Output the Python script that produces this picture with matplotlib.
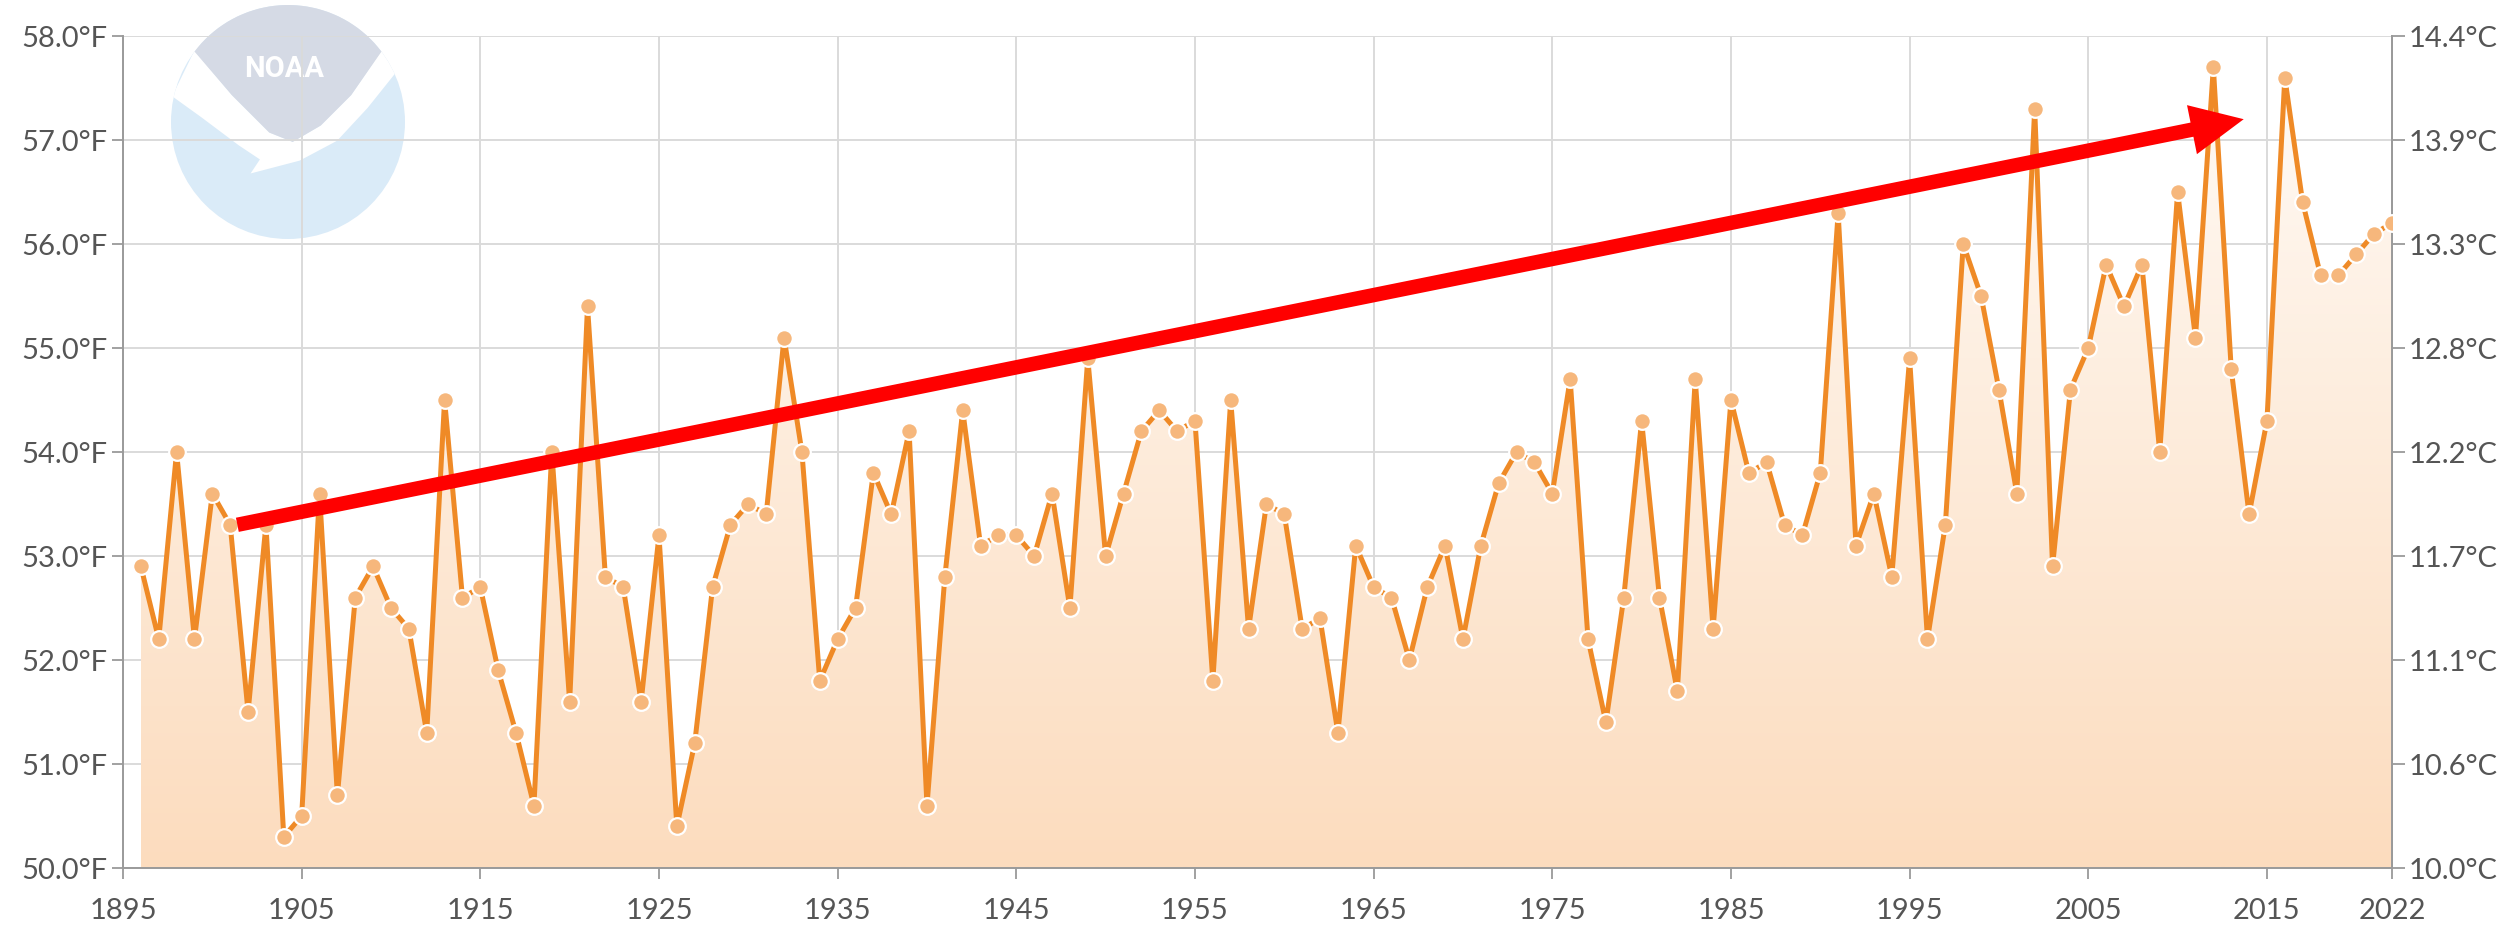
"""Contiguous U.S. annual average temperature, 1896-2022, with trend arrow."""

import numpy as np
import matplotlib
matplotlib.use("Agg")
import matplotlib.pyplot as plt
from matplotlib.patches import Circle, Polygon
from matplotlib.ticker import FixedLocator, FuncFormatter

YEARS = list(range(1896, 2023))
TEMPS_F = [
    52.9, 52.2, 54.0, 52.2, 53.6, 53.3, 51.5, 53.3, 50.3, 50.5,  # 1896-1905
    53.6, 50.7, 52.6, 52.9, 52.5, 52.3, 51.3, 54.5, 52.6, 52.7,  # 1906-1915
    51.9, 51.3, 50.6, 54.0, 51.6, 55.4, 52.8, 52.7, 51.6, 53.2,  # 1916-1925
    50.4, 51.2, 52.7, 53.3, 53.5, 53.4, 55.1, 54.0, 51.8, 52.2,  # 1926-1935
    52.5, 53.8, 53.4, 54.2, 50.6, 52.8, 54.4, 53.1, 53.2, 53.2,  # 1936-1945
    53.0, 53.6, 52.5, 54.9, 53.0, 53.6, 54.2, 54.4, 54.2, 54.3,  # 1946-1955
    51.8, 54.5, 52.3, 53.5, 53.4, 52.3, 52.4, 51.3, 53.1, 52.7,  # 1956-1965
    52.6, 52.0, 52.7, 53.1, 52.2, 53.1, 53.7, 54.0, 53.9, 53.6,  # 1966-1975
    54.7, 52.2, 51.4, 52.6, 54.3, 52.6, 51.7, 54.7, 52.3, 54.5,  # 1976-1985
    53.8, 53.9, 53.3, 53.2, 53.8, 56.3, 53.1, 53.6, 52.8, 54.9,  # 1986-1995
    52.2, 53.3, 56.0, 55.5, 54.6, 53.6, 57.3, 52.9, 54.6, 55.0,  # 1996-2005
    55.8, 55.4, 55.8, 54.0, 56.5, 55.1, 57.7, 54.8, 53.4, 54.3,  # 2006-2015
    57.6, 56.4, 55.7, 55.7, 55.9, 56.1, 56.2,                    # 2016-2022
]

X_TICKS = [1895, 1905, 1915, 1925, 1935, 1945, 1955, 1965, 1975, 1985,
           1995, 2005, 2015, 2022]
Y_TICKS_F = [50, 51, 52, 53, 54, 55, 56, 57, 58]

# hand-drawn trend arrow (data coords)
ARROW_START = (1901.4, 53.3)
ARROW_END = (2013.7, 57.2)

LINE_COLOR = "#EF8A26"
MARKER_COLOR = "#F6B77C"
GRID_COLOR = "#DADADA"
SPINE_COLOR = "#9A9A9A"
TEXT_COLOR = "#555555"

W, H, DPI = 2509, 937, 100


def f_to_c(f):
    return (np.asarray(f) - 32.0) * 5.0 / 9.0


def c_to_f(c):
    return np.asarray(c) * 9.0 / 5.0 + 32.0


def draw_logo(fig):
    cx, cy, r = 288, 123, 117
    lax = fig.add_axes([(cx - r) / W, 1 - (cy + r) / H, 2 * r / W, 2 * r / H])
    lax.set_zorder(0)
    lax.set_xlim(-1, 1)
    lax.set_ylim(-1, 1)
    lax.axis("off")
    circ = Circle((0, 0), 1, facecolor="#DAEBF8", edgecolor="none")
    lax.add_patch(circ)
    white = Polygon([(-0.99, 0.22), (-0.8, 0.61), (-0.48, 0.23), (-0.16, -0.09),
                     (0.04, -0.17), (0.28, -0.03), (0.54, 0.23), (0.8, 0.61),
                     (0.92, 0.42), (0.68, 0.12), (0.42, -0.16), (0.1, -0.33),
                     (-0.32, -0.44), (-0.24, -0.32), (-0.42, -0.2), (-0.74, 0.04)],
                    closed=True, facecolor="white", edgecolor="none")
    lax.add_patch(white)
    white.set_clip_path(circ)
    ang = np.linspace(np.radians(37), np.radians(143), 40)
    cap = list(zip(np.cos(ang), np.sin(ang)))
    cap += [(-0.48, 0.23), (-0.16, -0.09), (0.04, -0.17), (0.28, -0.03), (0.54, 0.23)]
    lax.add_patch(Polygon(cap, closed=True, facecolor="#D5DAE5", edgecolor="none"))
    lax.text(-0.03, 0.46, "NOAA", color="white", fontsize=21, fontweight="bold",
             family="Roboto", ha="center", va="center")


def main():
    fig = plt.figure(figsize=(W / DPI, H / DPI), dpi=DPI)
    draw_logo(fig)

    ax = fig.add_axes([123 / W, 1 - 869 / H, (2392 - 123) / W, (869 - 37) / H])
    ax.set_zorder(1)
    ax.patch.set_alpha(0)

    years = np.array(YEARS)
    temps = np.array(TEMPS_F)

    # gradient fill under the line
    verts = [(years[0], 50)] + list(zip(years, temps)) + [(years[-1], 50)]
    poly = Polygon(verts, closed=True, facecolor="none", edgecolor="none")
    ax.add_patch(poly)
    t = np.linspace(0, 1, 256)[:, None]
    top = np.array([255, 251, 247]) / 255
    bot = np.array([252, 220, 190]) / 255
    grad = (bot * (1 - t) + top * t)[:, None, :]
    grad = np.repeat(grad, 2, axis=1)
    im = ax.imshow(grad, extent=[years[0], years[-1], 50, 58], origin="lower",
                   aspect="auto", zorder=1, interpolation="bilinear")
    im.set_clip_path(poly)

    ax.plot(years, temps, color=LINE_COLOR, lw=3.6, zorder=3,
            marker="o", markersize=12, markerfacecolor=MARKER_COLOR,
            markeredgecolor="white", markeredgewidth=1.6)

    ax.annotate("", xy=ARROW_END, xytext=ARROW_START, zorder=4,
                arrowprops=dict(arrowstyle="simple,head_length=0.95,head_width=0.9,tail_width=0.26",
                                mutation_scale=40, color="#FF0000", lw=0,
                                shrinkA=0, shrinkB=0))

    ax.set_xlim(1895, 2022)
    ax.set_ylim(50, 58)
    ax.xaxis.set_major_locator(FixedLocator(X_TICKS))
    ax.yaxis.set_major_locator(FixedLocator(Y_TICKS_F))
    ax.yaxis.set_major_formatter(FuncFormatter(lambda v, p: f"{v:.1f}°F"))
    ax.grid(True, color=GRID_COLOR, lw=1.4, zorder=0)
    ax.set_axisbelow(True)

    for side in ("left", "right", "bottom"):
        ax.spines[side].set_color(SPINE_COLOR)
        ax.spines[side].set_linewidth(1.4)
    ax.spines["top"].set_visible(False)

    font = dict(family=["Lato", "DejaVu Sans"], size=21)
    ax.tick_params(axis="x", length=8, width=1.3, color=SPINE_COLOR,
                   pad=13, labelcolor=TEXT_COLOR)
    ax.tick_params(axis="y", length=8, width=1.3, color=SPINE_COLOR,
                   pad=3, labelcolor=TEXT_COLOR)
    for lab in ax.get_xticklabels() + ax.get_yticklabels():
        lab.set_fontfamily(font["family"])
        lab.set_fontsize(font["size"])

    sec = ax.secondary_yaxis("right", functions=(f_to_c, c_to_f))
    sec.yaxis.set_major_locator(FixedLocator(f_to_c(Y_TICKS_F)))
    sec.yaxis.set_major_formatter(FuncFormatter(lambda v, p: f"{v:.1f}°C"))
    sec.spines["right"].set_color(SPINE_COLOR)
    sec.spines["right"].set_linewidth(1.4)
    sec.tick_params(axis="y", length=9, width=1.3, color=SPINE_COLOR,
                    pad=3, labelcolor=TEXT_COLOR)
    for lab in sec.get_yticklabels():
        lab.set_fontfamily(font["family"])
        lab.set_fontsize(font["size"])

    fig.savefig("out.png", dpi=DPI, facecolor="white")
    plt.close(fig)


if __name__ == "__main__":
    main()
